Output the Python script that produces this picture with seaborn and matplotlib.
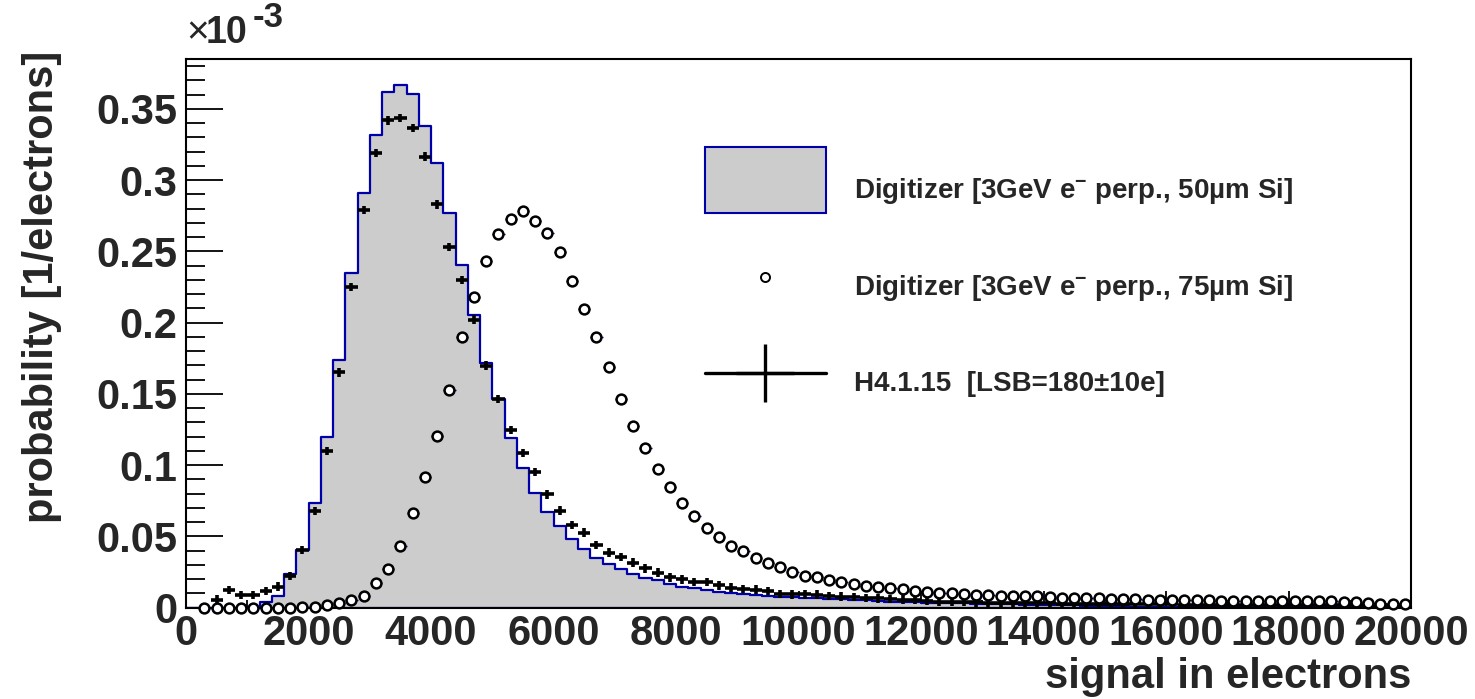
import numpy as np
import matplotlib
matplotlib.use("Agg")
import matplotlib.pyplot as plt
import seaborn as sns
from matplotlib.lines import Line2D
from matplotlib.patches import Patch
from matplotlib.legend_handler import HandlerLine2D
from matplotlib.ticker import MultipleLocator, FuncFormatter, FixedLocator

# ---------------- data (probability in units of 1e-3 per electron) ----------------
BIN_WIDTH = 200
X_50UM = np.arange(100, 20000, BIN_WIDTH)   # bin centres of the filled histogram
X_75UM = np.arange(300, 20000, BIN_WIDTH)   # bin centres of the open circles
X_H4 = np.arange(500, 20000, BIN_WIDTH)     # bin centres of the measured data

DIGI_50UM = [
    0.0, 0.0, 0.0, 0.0, 0.0, 0.0002, 0.0037, 0.0080, 0.0235, 0.0404,
    0.0730, 0.1200, 0.1740, 0.2350, 0.2910, 0.3320, 0.3615, 0.3670, 0.3606, 0.3380,
    0.3120, 0.2770, 0.2405, 0.2050, 0.1715, 0.1465, 0.1188, 0.0977, 0.0802, 0.0673,
    0.0572, 0.0479, 0.0409, 0.0350, 0.0303, 0.0268, 0.0235, 0.0209, 0.0193, 0.0165,
    0.0146, 0.0135, 0.0123, 0.0111, 0.0104, 0.0095, 0.0088, 0.0083, 0.0076, 0.0072,
    0.0069, 0.0066, 0.0060, 0.0058, 0.0056, 0.0050, 0.0045, 0.0041, 0.0040, 0.0038,
    0.0035, 0.0033, 0.0031, 0.0029, 0.0027, 0.0026, 0.0024, 0.0022, 0.0021, 0.0020,
    0.0019, 0.0018, 0.0017, 0.0010, 0.0009, 0.0008, 0.0008, 0.0007, 0.0007, 0.0006,
    0.0006, 0.0005, 0.0005, 0.0005, 0.0004, 0.0004, 0.0004, 0.0003, 0.0003, 0.0003,
    0.0003, 0.0002, 0.0002, 0.0002, 0.0002, 0.0002, 0.0001, 0.0001, 0.0001, 0.0001,
]

DIGI_75UM = [
    0.0000, 0.0000, 0.0000, 0.0000, 0.0000, 0.0000, 0.0000, 0.0000, 0.0002, 0.0005,
    0.0015, 0.0030, 0.0050, 0.0083, 0.0170, 0.0268, 0.0434, 0.0661, 0.0914, 0.1207,
    0.1530, 0.1897, 0.2180, 0.2435, 0.2620, 0.2730, 0.2785, 0.2714, 0.2632, 0.2492,
    0.2293, 0.2096, 0.1897, 0.1687, 0.1462, 0.1277, 0.1120, 0.0970, 0.0844, 0.0732,
    0.0645, 0.0560, 0.0493, 0.0434, 0.0397, 0.0350, 0.0310, 0.0282, 0.0252, 0.0223,
    0.0212, 0.0193, 0.0177, 0.0163, 0.0151, 0.0142, 0.0140, 0.0128, 0.0115, 0.0111,
    0.0102, 0.0100, 0.0092, 0.0090, 0.0088, 0.0083, 0.0081, 0.0080, 0.0078, 0.0072,
    0.0070, 0.0068, 0.0066, 0.0065, 0.0060, 0.0058, 0.0057, 0.0055, 0.0054, 0.0053,
    0.0052, 0.0050, 0.0050, 0.0049, 0.0048, 0.0047, 0.0047, 0.0046, 0.0045, 0.0045,
    0.0044, 0.0043, 0.0043, 0.0042, 0.0041, 0.0030, 0.0028, 0.0028, 0.0027,
]

DATA_H4 = [
    0.0055, 0.0123, 0.0088, 0.0088, 0.0116, 0.0146, 0.0220, 0.0404, 0.0678, 0.1100,
    0.1650, 0.2250, 0.2790, 0.3190, 0.3420, 0.3435, 0.3365, 0.3165, 0.2830, 0.2530,
    0.2300, 0.2020, 0.1698, 0.1465, 0.1246, 0.1085, 0.0950, 0.0795, 0.0680, 0.0579,
    0.0525, 0.0439, 0.0385, 0.0353, 0.0315, 0.0275, 0.0244, 0.0212, 0.0198, 0.0180,
    0.0180, 0.0155, 0.0140, 0.0130, 0.0125, 0.0115, 0.0095, 0.0092, 0.0092, 0.0090,
    0.0080, 0.0076, 0.0074, 0.0068, 0.0064, 0.0060, 0.0055, 0.0052, 0.0048, 0.0042,
    0.0040, 0.0038, 0.0036, 0.0035, 0.0033, 0.0032, 0.0031, 0.0030, 0.0029, 0.0028,
    0.0027, 0.0026, 0.0025, 0.0024, 0.0024, 0.0023, 0.0023, 0.0022, 0.0022, 0.0021,
    0.0021, 0.0020, 0.0020, 0.0020, 0.0019, 0.0019, 0.0018, 0.0018, 0.0018, 0.0017,
    0.0017, 0.0016, 0.0016, 0.0016, 0.0020, 0.0020, 0.0020, 0.0020,
]
DATA_YERR = 0.003

LABEL_50 = "Digitizer [3GeV e$^{-}$ perp., 50µm Si]"
LABEL_75 = "Digitizer [3GeV e$^{-}$ perp., 75µm Si]"
LABEL_H4 = "H4.1.15  [LSB=180±10e]"
X_TITLE = "signal in electrons"
Y_TITLE = "probability [1/electrons]"
X_TICKS = [0, 2000, 4000, 6000, 8000, 10000, 12000, 14000, 16000, 18000, 20000]
Y_TICKS = [0, 0.05, 0.1, 0.15, 0.2, 0.25, 0.3, 0.35]

# ---------------- style ----------------
sns.set_style("white")
plt.rcParams["font.family"] = ["Liberation Sans", "DejaVu Sans"]
plt.rcParams["font.weight"] = "bold"
plt.rcParams["mathtext.fontset"] = "custom"
plt.rcParams["mathtext.rm"] = "Liberation Sans:bold"
plt.rcParams["mathtext.bf"] = "Liberation Sans:bold"
plt.rcParams["mathtext.it"] = "Liberation Sans:bold"

FILL = "#cccccc"
BLUE = "#0000aa"


class ShiftedLineHandler(HandlerLine2D):
    """Line legend handler whose handle is moved vertically (points)."""

    def __init__(self, dy=0.0, **kw):
        super().__init__(**kw)
        self.dy = dy

    def create_artists(self, legend, orig_handle, xdescent, ydescent, width,
                       height, fontsize, trans):
        artists = super().create_artists(legend, orig_handle, xdescent, ydescent,
                                         width, height, fontsize, trans)
        for a in artists:
            a.set_ydata(np.asarray(a.get_ydata(), float) + self.dy)
        return artists


fig = plt.figure(figsize=(14.75, 6.99), dpi=100)
ax = fig.add_axes([186 / 1475, 1 - 607.5 / 699, (1411 - 186) / 1475, (607.5 - 59) / 699])

sns.histplot(x=X_50UM, weights=DIGI_50UM, binwidth=BIN_WIDTH, binrange=(0, 20000),
             element="step", fill=True, stat="count", facecolor=FILL, edgecolor=BLUE,
             linewidth=1.6, alpha=1, ax=ax, zorder=1)

ax.errorbar(X_75UM, DIGI_75UM, xerr=BIN_WIDTH / 2, fmt="none", ecolor=BLUE,
            elinewidth=1.0, capsize=0, zorder=3, clip_on=False)
ax.errorbar(X_H4, DATA_H4, xerr=BIN_WIDTH / 2, yerr=DATA_YERR, fmt="none",
            ecolor="black", elinewidth=2.6, capsize=0, zorder=3.5)
sns.scatterplot(x=X_75UM, y=DIGI_75UM, marker="o", s=50, facecolor="white",
                edgecolor="black", linewidth=1.8, zorder=4, clip_on=False, ax=ax)

ax.set_xlim(0, 20000)
ax.set_ylim(0, 0.385)
ax.xaxis.set_major_locator(FixedLocator(X_TICKS))
ax.xaxis.set_minor_locator(MultipleLocator(500))
ax.yaxis.set_major_locator(FixedLocator(Y_TICKS))
ax.yaxis.set_minor_locator(MultipleLocator(0.01))
ax.yaxis.set_major_formatter(FuncFormatter(lambda v, p: f"{v:g}"))
ax.xaxis.set_major_formatter(FuncFormatter(lambda v, p: f"{v:.0f}"))

for s in ax.spines.values():
    s.set_linewidth(1.5)
    s.set_color("black")
ax.tick_params(axis="both", which="both", direction="in", color="black",
               top=False, right=False, bottom=True, left=True, width=1.3)
ax.tick_params(axis="y", which="major", length=26.5, labelsize=30, pad=6)
ax.tick_params(axis="y", which="minor", length=13.5)
ax.tick_params(axis="x", which="major", length=12, labelsize=30, pad=5)
ax.tick_params(axis="x", which="minor", length=6)

ax.set_xlabel(X_TITLE, fontsize=30, fontweight="bold", loc="right")
ax.set_ylabel(Y_TITLE, fontsize=30, fontweight="bold", loc="top")
ax.xaxis.set_label_coords(1.0, -0.09)
ax.yaxis.set_label_coords(-0.101, 1.015)

fig.text(186 / 1475, 1 - 43 / 699, "×", fontsize=28, fontweight="normal",
         ha="left", va="baseline")
fig.text(206 / 1475, 1 - 43 / 699, "10", fontsize=27, ha="left", va="baseline")
fig.text(253 / 1475, 1 - 27 / 699, "-3", fontsize=25, ha="left", va="baseline")

h1 = Patch(facecolor=FILL, edgecolor=BLUE, linewidth=1.5)
h2 = Line2D([], [], ls="none", marker="o", ms=6.5, mfc="white", mec="black", mew=1.4)
h3 = Line2D([], [], color="black", lw=2.4, marker="+", ms=42, mew=2.4)
leg = ax.legend([h1, h2, h3], [LABEL_50, LABEL_75, LABEL_H4], loc="upper left",
                bbox_to_anchor=(705 / 1475, 1 - 147 / 699), bbox_transform=fig.transFigure,
                frameon=False, fontsize=20, handlelength=4.35, handleheight=3.28,
                labelspacing=1.1, handletextpad=1.0, borderpad=0, borderaxespad=0,
                handler_map={Line2D: ShiftedLineHandler(dy=-9.0)})
for t in leg.get_texts():
    t.set_fontweight("bold")
    t.set_y(-10)

fig.savefig("out.png", dpi=100)
